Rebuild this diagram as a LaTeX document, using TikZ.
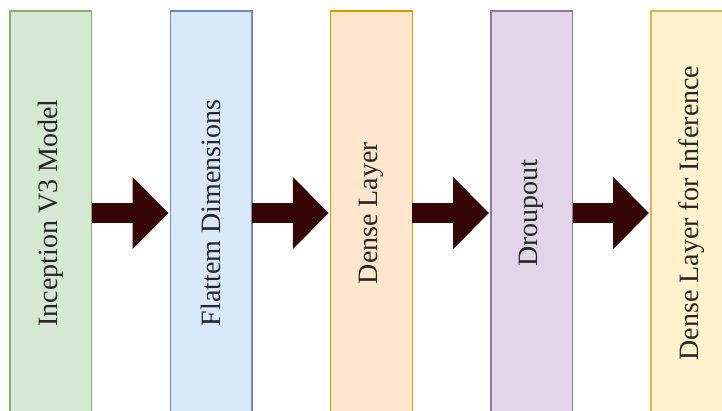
\documentclass[tikz,border=0pt]{standalone}
\usepackage{fontspec}
\setmainfont{Liberation Serif}
\usetikzlibrary{arrows.meta}

% layer colours
\definecolor{gfill}{HTML}{D5E8D4}\definecolor{gline}{HTML}{82B366}
\definecolor{bfill}{HTML}{DAE8FC}\definecolor{bline}{HTML}{6C8EBF}
\definecolor{ofill}{HTML}{FFE6CC}\definecolor{oline}{HTML}{D79B00}
\definecolor{pfill}{HTML}{E1D5E7}\definecolor{pline}{HTML}{9673A6}
\definecolor{yfill}{HTML}{FFF2CC}\definecolor{yline}{HTML}{D6B656}
\definecolor{arrowbrown}{HTML}{360505}

\tikzset{
  layer/.style={draw, line width=1.3pt, minimum width=81.5pt, minimum height=404pt,
                inner sep=0pt, outer sep=0pt},
  lbl/.style={rotate=90, font=\fontsize{28}{32}\selectfont, text=black!85, inner sep=0pt},
  fat/.style={arrowbrown, line width=20pt, shorten >=2pt,
              -{Triangle[width=70pt,length=36pt]}}
}

\begin{document}
\begin{tikzpicture}[x=1pt,y=-1pt]
  \useasboundingbox (0,0) rectangle (722,410);
  \clip (0,0) rectangle (722,410);

  % the five stages of the network
  \node[layer, fill=gfill, draw=gline] (b1) at (50.75,213) {};
  \node[layer, fill=bfill, draw=bline] (b2) at (211.25,213) {};
  \node[layer, fill=ofill, draw=oline] (b3) at (371.5,213) {};
  \node[layer, fill=pfill, draw=pline] (b4) at (531.75,213) {};
  \node[layer, fill=yfill, draw=yline] (b5) at (691.75,213) {};

  \node[lbl] (t1) at (b1.center) {Inception V3 Model};
  \node[lbl] (t2) at (b2.center) {Flattem Dimensions};
  \node[lbl] (t3) at (b3.center) {Dense Layer};
  \node[lbl] (t4) at (b4.center) {Droupout};
  \node[lbl] (t5) at (b5.center) {Dense Layer for Inference};

  % block arrows between the stages
  \draw[fat] (b1.east) -- (b2.west);
  \draw[fat] (b2.east) -- (b3.west);
  \draw[fat] (b3.east) -- (b4.west);
  \draw[fat] (b4.east) -- (b5.west);
\end{tikzpicture}
\end{document}
